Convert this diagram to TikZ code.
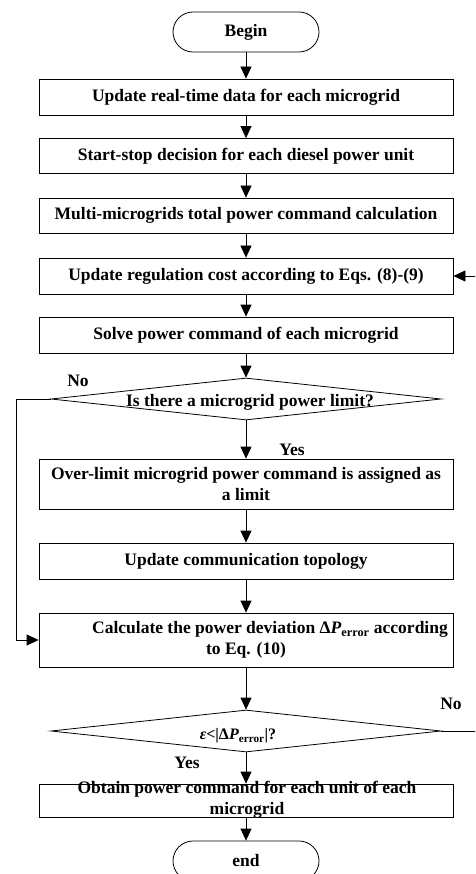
\documentclass[tikz,border=0pt]{standalone}
\usepackage{fontspec}
\setmainfont{Liberation Serif}
\usetikzlibrary{shapes.geometric,arrows.meta}
\begin{document}
\begin{tikzpicture}[x=1pt,y=-1pt,
  every node/.style={font=\fontsize{17.5}{21}\selectfont\bfseries},
  proc/.style={draw, line width=0.8pt, minimum width=414pt, inner sep=0pt, align=center},
  term/.style={draw, line width=0.8pt, rounded corners=20pt, minimum width=146pt, minimum height=40pt, inner sep=0pt},
  decision/.style={draw, diamond, line width=0.8pt, minimum width=390pt, minimum height=42pt, inner sep=0pt},
  plain/.style={inner sep=0pt, align=center},
  arr/.style={-{Triangle[length=12pt,width=11pt]}, line width=0.8pt}]
\clip (0,0) rectangle (475,874);
\fill[white] (0,0) rectangle (475,874);
\node[term] (begin) at (246,32) {Begin};
\node[proc, minimum height=36pt] (b1) at (246,97) {Update real-time data for each microgrid};
\node[proc, minimum height=35pt] (b2) at (246,156) {Start-stop decision for each diesel power unit};
\node[proc, minimum height=35pt] (b3) at (246,215.5) {Multi-microgrids total power command calculation};
\node[proc, minimum height=36pt] (b4) at (246,276) {Update regulation cost according to Eqs. (8)-(9)};
\node[proc, minimum height=36pt] (b5) at (246,335) {Solve power command of each microgrid};
\node[decision] (d1) at (246,399) {};
\node[plain] (d1t) at (250,402) {Is there a microgrid power limit?};
\node[proc, minimum height=50pt] (b6) at (246,484) {Over-limit microgrid power command is assigned as\\a limit};
\node[proc, minimum height=36pt] (b7) at (246,561) {Update communication topology};
\node[proc, minimum height=54pt] (b8) at (246,640) {\hspace*{48pt}Calculate the power deviation Δ\textit{P}\textsubscript{error} according\\to Eq. (10)};
\node[decision] (d2) at (246,731) {};
\node[plain] (d2t) at (238,736) {\fontsize{16}{18}\selectfont\textit{ε}<|Δ\textit{P}\textsubscript{error}|?};
\node[proc, minimum height=33pt] (b9) at (246,800.5) {};
\node[plain] (b9t) at (247,800) {Obtain power command for each unit of each\\microgrid};
\node[term] (end) at (246,861) {end};
\node[plain] (no1) at (78,381) {No};
\node[plain] (yes1) at (292,450) {Yes};
\node[plain] (no2) at (451,704) {No};
\node[plain] (yes2) at (187,763) {Yes};
\coordinate (lx) at (16,0);
\coordinate (rx) at (482,0);
\draw[arr] (begin.south) -- (b1.north);
\draw[arr] (b1.south) -- (b2.north);
\draw[arr] (b2.south) -- (b3.north);
\draw[arr] (b3.south) -- (b4.north);
\draw[arr] (b4.south) -- (b5.north);
\draw[arr] (b5.south) -- (d1.north);
\draw[arr] (d1.south) -- (b6.north);
\draw[arr] (b6.south) -- (b7.north);
\draw[arr] (b7.south) -- (b8.north);
\draw[arr] (b8.south) -- (d2.north);
\draw[arr] (d2.south) -- (b9.north);
\draw[arr] (b9.south) -- (end.north);
\draw[arr] (d1.west) -- (lx |- d1.west) -- (lx |- b8.west) -- (b8.west);
\draw[arr] (d2.east) -- (rx |- d2.east) -- (rx |- b4.east) -- (b4.east);
\end{tikzpicture}
\end{document}
